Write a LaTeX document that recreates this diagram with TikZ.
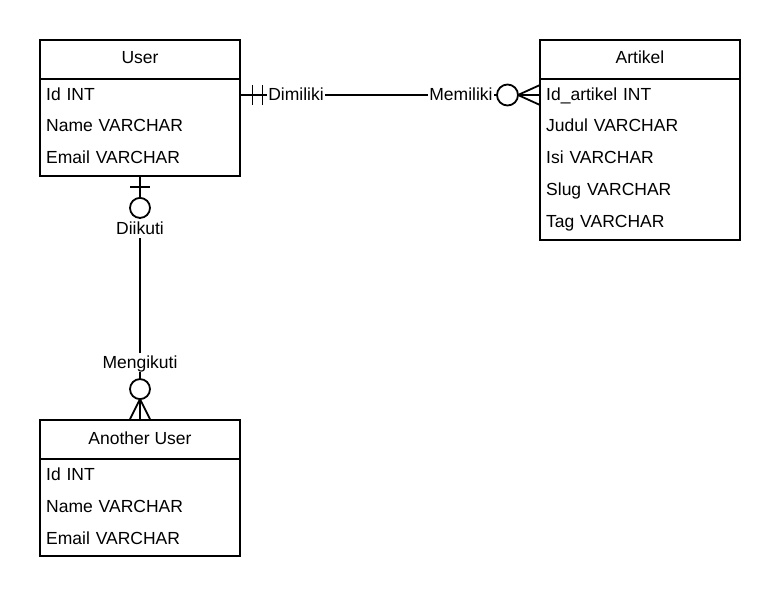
\documentclass[tikz,border=0pt]{standalone}
\usepackage{fontspec}
\setmainfont{Liberation Sans}
\usetikzlibrary{calc}
\begin{document}
\begin{tikzpicture}[x=1pt,y=-1pt,
  every node/.style={font=\fontsize{17.5}{20}\selectfont},
  tbox/.style={draw, line width=1.8pt, minimum width=200pt, inner sep=0pt},
  thead/.style={inner sep=0pt, text height=12.5pt, text depth=0.5pt},
  trow/.style={anchor=west, inner xsep=6pt, inner ysep=0pt, text height=12.5pt, text depth=0.5pt, text width=188pt, align=left},
  conn/.style={line width=1.8pt},
  lbl/.style={fill=white, inner xsep=1pt, inner ysep=3pt, text height=12.5pt, text depth=0.5pt},
  ring/.style={line width=1.8pt, fill=white}]
\useasboundingbox (0,0) rectangle (780,596);

% User table
\node[tbox, minimum height=136pt] (user) at (140,108) {};
\node[thead] (userh) at (140,58) {User};
\draw[line width=1.8pt] (user.west |- 0,79) -- (user.east |- 0,79);
\node[trow] (uid) at (40,95) {Id INT};
\node[trow] (uname) at (40,126) {Name VARCHAR};
\node[trow] (umail) at (40,158) {Email VARCHAR};

% Artikel table
\node[tbox, minimum height=200pt] (art) at (640,140) {};
\node[thead] (arth) at (640,58) {Artikel};
\draw[line width=1.8pt] (art.west |- 0,79) -- (art.east |- 0,79);
\node[trow] (aid) at (540,95) {Id\_artikel INT};
\node[trow] (ajud) at (540,126) {Judul VARCHAR};
\node[trow] (aisi) at (540,158) {Isi VARCHAR};
\node[trow] (aslug) at (540,190) {Slug VARCHAR};
\node[trow] (atag) at (540,222) {Tag VARCHAR};

% Another User table
\node[tbox, minimum height=136pt] (auser) at (140,488) {};
\node[thead] (auserh) at (140,438) {Another User};
\draw[line width=1.8pt] (auser.west |- 0,459) -- (auser.east |- 0,459);
\node[trow] (aaid) at (40,474) {Id INT};
\node[trow] (aaname) at (40,506) {Name VARCHAR};
\node[trow] (aamail) at (40,538) {Email VARCHAR};

% User -- Artikel
\draw[conn] (uid.east) -- (aid.west);
\draw[conn] ($(uid.east)+(12,-10)$) -- ($(uid.east)+(12,10)$);
\draw[conn] ($(uid.east)+(22,-10)$) -- ($(uid.east)+(22,10)$);
\draw[conn] ($(aid.west)+(-22,0)$) -- ($(aid.west)+(0,-10)$);
\draw[conn] ($(aid.west)+(-22,0)$) -- ($(aid.west)+(0,10)$);
\draw[ring] ($(aid.west)+(-32.5,0)$) circle[radius=10.5];
\node[lbl] (dimiliki) at (296,95) {Dimiliki};
\node[lbl] (memiliki) at (461,95) {Memiliki};

% User -- Another User
\draw[conn] (user.south) -- (auser.north);
\draw[conn] ($(user.south)+(-10,10)$) -- ($(user.south)+(10,10)$);
\draw[ring] ($(user.south)+(0,31)$) circle[radius=10];
\draw[conn] ($(auser.north)+(0,-20)$) -- ($(auser.north)+(-10,0)$);
\draw[conn] ($(auser.north)+(0,-20)$) -- ($(auser.north)+(10,0)$);
\draw[ring] ($(auser.north)+(0,-30)$) circle[radius=10];
\node[lbl] (diikuti) at (140,229) {Diikuti};
\node[lbl] (mengikuti) at (140,363) {Mengikuti};
\end{tikzpicture}
\end{document}
